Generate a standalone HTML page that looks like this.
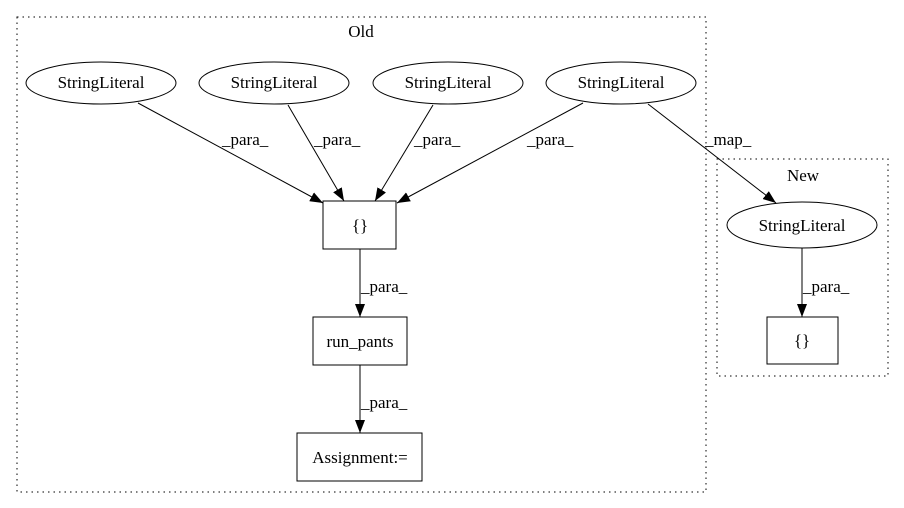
<!DOCTYPE html>
<html><head><style>body{margin:0;background:#fff}svg{display:block}text{font-family:"Liberation Serif",serif;font-size:17px;fill:#000}</style></head>
<body>
<svg width="904" height="508" viewBox="0 0 904 508" xmlns="http://www.w3.org/2000/svg">
<defs><marker id="a" markerWidth="13" markerHeight="10" refX="13" refY="5" orient="auto" markerUnits="userSpaceOnUse"><path d="M0,0 L13,5 L0,10 z" fill="#000"/></marker></defs>
<rect x="17" y="17" width="689" height="475" fill="none" stroke="#000" stroke-dasharray="1.5,4"/>
<rect x="717" y="159" width="171" height="217" fill="none" stroke="#000" stroke-dasharray="1.5,4"/>
<text x="361" y="37" text-anchor="middle">Old</text>
<text x="803" y="181" text-anchor="middle">New</text>
<g fill="none" stroke="#000">
<ellipse cx="101" cy="83" rx="75" ry="21"/>
<ellipse cx="274" cy="83" rx="75" ry="21"/>
<ellipse cx="448" cy="83" rx="75" ry="21"/>
<ellipse cx="621" cy="83" rx="75" ry="21"/>
<ellipse cx="802" cy="225" rx="75" ry="23"/>
<rect x="323" y="201" width="73" height="48"/>
<rect x="313" y="317" width="94" height="48"/>
<rect x="297" y="433" width="125" height="48"/>
<rect x="767" y="317" width="71" height="47"/>
<path d="M138,103 L323,203" marker-end="url(#a)"/>
<path d="M288,105 L344,201" marker-end="url(#a)"/>
<path d="M433,105 L375,201" marker-end="url(#a)"/>
<path d="M583,103 L397,203" marker-end="url(#a)"/>
<path d="M648,104 L776,203" marker-end="url(#a)"/>
<path d="M360,249 L360,317" marker-end="url(#a)"/>
<path d="M360,365 L360,433" marker-end="url(#a)"/>
<path d="M802,248 L802,317" marker-end="url(#a)"/>
</g>
<g text-anchor="middle">
<text x="101" y="88">StringLiteral</text>
<text x="274" y="88">StringLiteral</text>
<text x="448" y="88">StringLiteral</text>
<text x="621" y="88">StringLiteral</text>
<text x="802" y="231">StringLiteral</text>
<text x="360" y="231">{}</text>
<text x="360" y="347">run_pants</text>
<text x="360" y="463">Assignment:=</text>
<text x="802" y="346">{}</text>
</g>
<text x="222" y="145">_para_</text>
<text x="314" y="145">_para_</text>
<text x="414" y="145">_para_</text>
<text x="527" y="145">_para_</text>
<text x="705" y="145">_map_</text>
<text x="361" y="292">_para_</text>
<text x="361" y="408">_para_</text>
<text x="803" y="292">_para_</text>
</svg>
</body></html>
